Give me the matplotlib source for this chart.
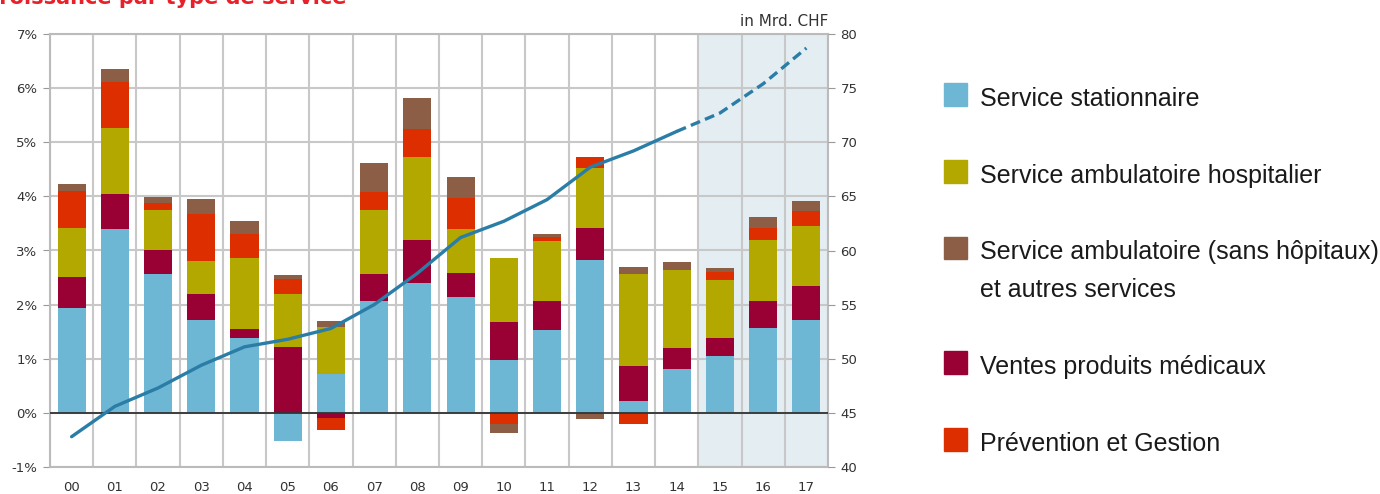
import numpy as np
import matplotlib
matplotlib.use('Agg')
import matplotlib.pyplot as plt
from matplotlib.patches import Rectangle

# growth contributions per year (in % points)
years = ['00', '01', '02', '03', '04', '05', '06', '07', '08', '09',
         '10', '11', '12', '13', '14', '15', '16', '17']
stationnaire = [1.94, 3.40, 2.56, 1.72, 1.39, -0.52, 0.72, 2.07, 2.40, 2.14,
                0.98, 1.54, 2.83, 0.22, 0.81, 1.06, 1.57, 1.71]
ventes = [0.57, 0.64, 0.44, 0.48, 0.16, 1.21, -0.09, 0.49, 0.80, 0.45,
          0.69, 0.52, 0.59, 0.65, 0.39, 0.32, 0.50, 0.63]
amb_hosp = [0.91, 1.23, 0.75, 0.60, 1.31, 0.99, 0.86, 1.18, 1.52, 0.80,
            1.19, 1.12, 1.11, 1.69, 1.44, 1.08, 1.12, 1.12]
prevention = [0.68, 0.85, 0.12, 0.87, 0.44, 0.28, -0.22, 0.35, 0.53, 0.58,
              -0.20, 0.07, 0.19, -0.21, 0.0, 0.14, 0.23, 0.27]
amb_autres = [0.12, 0.23, 0.12, 0.29, 0.24, 0.06, 0.12, 0.52, 0.56, 0.39,
              -0.18, 0.06, -0.11, 0.13, 0.14, 0.08, 0.20, 0.18]

# total costs in Mrd. CHF (right axis)
total = [42.8, 45.6, 47.3, 49.4, 51.1, 51.8, 52.8, 55.0, 57.9, 61.2,
         62.7, 64.7, 67.7, 69.2, 71.0, 72.7, 75.4, 78.7]
n_actual = 15  # 00..14 solid, then forecast dashed

col_blue = '#6DB6D4'
col_olive = '#B3A800'
col_brown = '#8B5E45'
col_maroon = '#990033'
col_red = '#DD2E00'
col_line = '#2A7DA6'

# stacking order bottom -> top
series = [
    (stationnaire, col_blue),
    (ventes, col_maroon),
    (amb_hosp, col_olive),
    (prevention, col_red),
    (amb_autres, col_brown),
]

legend_items = [
    ('Service stationnaire', col_blue),
    ('Service ambulatoire hospitalier', col_olive),
    ('Service ambulatoire (sans hôpitaux)\net autres services', col_brown),
    ('Ventes produits médicaux', col_maroon),
    ('Prévention et Gestion', col_red),
]

W, H = 1380, 494
fig = plt.figure(figsize=(W / 100, H / 100), dpi=100)
ax = fig.add_axes([50 / W, 1 - 467 / H, 778 / W, 433 / H])

x = np.arange(len(years))
ax.axvspan(14.5, 17.5, color='#E4EDF2', zorder=0, lw=0)

pos = np.zeros(len(years))
neg = np.zeros(len(years))
for vals, c in series:
    v = np.array(vals)
    bottom = np.where(v >= 0, pos, neg)
    ax.bar(x, v, bottom=bottom, width=0.65, color=c, zorder=2, lw=0)
    pos = pos + np.where(v >= 0, v, 0)
    neg = neg + np.where(v < 0, v, 0)

ax.axhline(0, color='#333333', lw=1.3, zorder=3)

ax.set_xlim(-0.5, 17.5)
ax.set_ylim(-1, 7)
ax.set_yticks(range(-1, 8))
ax.set_yticklabels([f'{i}%' for i in range(-1, 8)])
ax.set_xticks(x)
ax.set_xticklabels(years)
ax.set_xticks(np.arange(-0.5, 18, 1), minor=True)
ax.grid(axis='y', which='major', color='#C8C8C8', lw=1.5)
ax.grid(axis='x', which='minor', color='#C8C8C8', lw=1.5)
ax.set_axisbelow(True)
ax.tick_params(axis='y', length=5, color='#999999', labelsize=9.5,
               labelcolor='#333333', pad=4)
ax.tick_params(axis='x', which='both', length=0, labelsize=9.5,
               labelcolor='#333333', pad=10)
for s in ax.spines.values():
    s.set_color('#BBBBBB')
    s.set_linewidth(1.5)

ax2 = ax.twinx()
ax2.set_ylim(40, 80)
ax2.set_yticks(range(40, 81, 5))
ax2.tick_params(axis='y', length=5, color='#999999', labelsize=9.5,
                labelcolor='#333333', pad=4)
for s in ax2.spines.values():
    s.set_visible(False)
ax2.plot(x[:n_actual], total[:n_actual], color=col_line, lw=2.4,
         solid_capstyle='round', zorder=5)
ax2.plot(x[n_actual - 1:], total[n_actual - 1:], color=col_line, lw=2.4,
         dashes=(3, 1.6), zorder=5)

ax.text(1.0, 1.012, 'in Mrd. CHF', transform=ax.transAxes, ha='right',
        va='bottom', fontsize=11, color='#333333')

fig.text(-15.5 / W, 1 - 4 / H, 'Croissance par type de service',
         fontsize=15, fontweight='bold', color='#E8202A', va='baseline',
         ha='left', family='DejaVu Sans')

# legend on the right
baselines = [105.7, 182.7, 259.3, 374.0, 450.7]
sq = 22.7
for (label, c), b in zip(legend_items, baselines):
    fig.patches.append(Rectangle((944 / W, 1 - b / H), sq / W, sq / H,
                                 transform=fig.transFigure, color=c,
                                 figure=fig))
    lines = label.split('\n')
    for k, line in enumerate(lines):
        fig.text(980 / W, 1 - (b + k * 37.4) / H, line, fontsize=18,
                 family='Liberation Sans', color='#1A1A1A', va='baseline',
                 ha='left')

fig.savefig('out.png', dpi=100)
